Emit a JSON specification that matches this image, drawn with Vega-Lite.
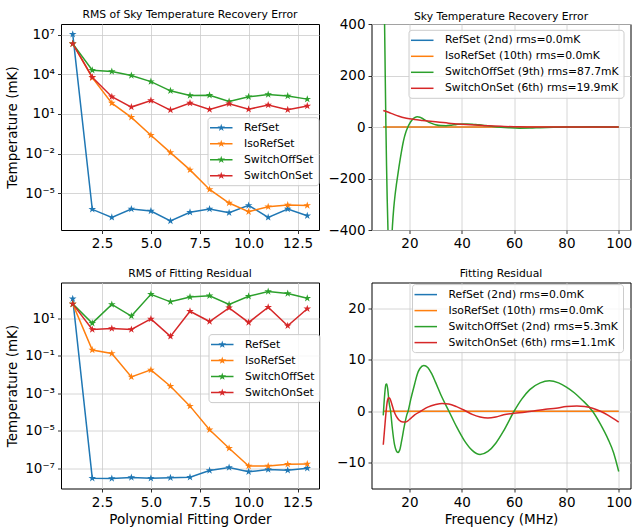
{
  "$schema": "https://vega.github.io/schema/vega-lite/v6.json",
  "background": "white",
  "padding": {"left": 5, "top": 8, "right": 0, "bottom": 0},
  "config": {
    "font": "DejaVu Sans",
    "view": {"stroke": "black", "strokeWidth": 1},
    "axis": {
      "labelFont": "DejaVu Sans", "labelFontSize": 13.5, "labelColor": "black",
      "titleFont": "DejaVu Sans", "titleFontSize": 13.5, "titleFontWeight": "normal", "titleColor": "black",
      "tickColor": "black", "tickSize": 3.5, "tickWidth": 0.8, "labelPadding": 3,
      "domain": false, "grid": true, "gridColor": "#cbcbcb", "gridWidth": 0.8,
      "labelFlush": false, "labelOverlap": false
    },
    "title": {"font": "DejaVu Sans", "fontSize": 10.8, "fontWeight": "normal", "color": "black", "frame": "group", "anchor": "middle", "offset": 0},
    "legend": {
      "orient": "none", "title": null,
      "labelFont": "DejaVu Sans", "labelFontSize": 10.8, "labelColor": "black", "labelLimit": 0,
      "fillColor": "rgba(255,255,255,0.8)", "strokeColor": "#cccccc", "cornerRadius": 3,
      "padding": 4.5, "rowPadding": 5, "labelOffset": 20, "symbolSize": 144,
      "symbolStrokeWidth": 0, "symbolOpacity": 1
    }
  },
  "datasets": {
    "tl": [
      {"o":1,"v":1.1e7,"s":"RefSet"},{"o":2,"v":5.9e-7,"s":"RefSet"},{"o":3,"v":1.45e-7,"s":"RefSet"},{"o":4,"v":6.3e-7,"s":"RefSet"},{"o":5,"v":4.4e-7,"s":"RefSet"},{"o":6,"v":7.8e-8,"s":"RefSet"},{"o":7,"v":3.5e-7,"s":"RefSet"},{"o":8,"v":6.3e-7,"s":"RefSet"},{"o":9,"v":3.3e-7,"s":"RefSet"},{"o":10,"v":1.17e-6,"s":"RefSet"},{"o":11,"v":1.45e-7,"s":"RefSet"},{"o":12,"v":6.3e-7,"s":"RefSet"},{"o":13,"v":1.95e-7,"s":"RefSet"},
      {"o":1,"v":2.1e6,"s":"IsoRefSet"},{"o":2,"v":5600,"s":"IsoRefSet"},{"o":3,"v":66,"s":"IsoRefSet"},{"o":4,"v":5.5,"s":"IsoRefSet"},{"o":5,"v":0.24,"s":"IsoRefSet"},{"o":6,"v":0.0117,"s":"IsoRefSet"},{"o":7,"v":5.75e-4,"s":"IsoRefSet"},{"o":8,"v":1.9e-5,"s":"IsoRefSet"},{"o":9,"v":1.78e-6,"s":"IsoRefSet"},{"o":10,"v":3.9e-7,"s":"IsoRefSet"},{"o":11,"v":9.3e-7,"s":"IsoRefSet"},{"o":12,"v":1.26e-6,"s":"IsoRefSet"},{"o":13,"v":1.17e-6,"s":"IsoRefSet"},
      {"o":1,"v":2.1e6,"s":"SwitchOffSet"},{"o":2,"v":20400,"s":"SwitchOffSet"},{"o":3,"v":16200,"s":"SwitchOffSet"},{"o":4,"v":8100,"s":"SwitchOffSet"},{"o":5,"v":2800,"s":"SwitchOffSet"},{"o":6,"v":562,"s":"SwitchOffSet"},{"o":7,"v":251,"s":"SwitchOffSet"},{"o":8,"v":263,"s":"SwitchOffSet"},{"o":9,"v":87,"s":"SwitchOffSet"},{"o":10,"v":200,"s":"SwitchOffSet"},{"o":11,"v":295,"s":"SwitchOffSet"},{"o":12,"v":224,"s":"SwitchOffSet"},{"o":13,"v":132,"s":"SwitchOffSet"},
      {"o":1,"v":2.1e6,"s":"SwitchOnSet"},{"o":2,"v":6000,"s":"SwitchOnSet"},{"o":3,"v":200,"s":"SwitchOnSet"},{"o":4,"v":33,"s":"SwitchOnSet"},{"o":5,"v":105,"s":"SwitchOnSet"},{"o":6,"v":19.5,"s":"SwitchOnSet"},{"o":7,"v":66,"s":"SwitchOnSet"},{"o":8,"v":21.9,"s":"SwitchOnSet"},{"o":9,"v":59,"s":"SwitchOnSet"},{"o":10,"v":22.9,"s":"SwitchOnSet"},{"o":11,"v":46.8,"s":"SwitchOnSet"},{"o":12,"v":20.9,"s":"SwitchOnSet"},{"o":13,"v":39.8,"s":"SwitchOnSet"}
    ],
    "bl": [
      {"o":1,"v":107,"s":"RefSet"},{"o":2,"v":2.95e-8,"s":"RefSet"},{"o":3,"v":2.8e-8,"s":"RefSet"},{"o":4,"v":3.2e-8,"s":"RefSet"},{"o":5,"v":2.95e-8,"s":"RefSet"},{"o":6,"v":3.1e-8,"s":"RefSet"},{"o":7,"v":3.3e-8,"s":"RefSet"},{"o":8,"v":7.6e-8,"s":"RefSet"},{"o":9,"v":1.1e-7,"s":"RefSet"},{"o":10,"v":6.5e-8,"s":"RefSet"},{"o":11,"v":8.5e-8,"s":"RefSet"},{"o":12,"v":7.9e-8,"s":"RefSet"},{"o":13,"v":1.0e-7,"s":"RefSet"},
      {"o":1,"v":57.5,"s":"IsoRefSet"},{"o":2,"v":0.2,"s":"IsoRefSet"},{"o":3,"v":0.132,"s":"IsoRefSet"},{"o":4,"v":0.0074,"s":"IsoRefSet"},{"o":5,"v":0.0174,"s":"IsoRefSet"},{"o":6,"v":0.00234,"s":"IsoRefSet"},{"o":7,"v":2.04e-4,"s":"IsoRefSet"},{"o":8,"v":1.12e-5,"s":"IsoRefSet"},{"o":9,"v":1.15e-6,"s":"IsoRefSet"},{"o":10,"v":1.32e-7,"s":"IsoRefSet"},{"o":11,"v":1.32e-7,"s":"IsoRefSet"},{"o":12,"v":1.62e-7,"s":"IsoRefSet"},{"o":13,"v":1.7e-7,"s":"IsoRefSet"},
      {"o":1,"v":57.5,"s":"SwitchOffSet"},{"o":2,"v":5.4,"s":"SwitchOffSet"},{"o":3,"v":53.7,"s":"SwitchOffSet"},{"o":4,"v":12.9,"s":"SwitchOffSet"},{"o":5,"v":186,"s":"SwitchOffSet"},{"o":6,"v":74,"s":"SwitchOffSet"},{"o":7,"v":135,"s":"SwitchOffSet"},{"o":8,"v":155,"s":"SwitchOffSet"},{"o":9,"v":53.7,"s":"SwitchOffSet"},{"o":10,"v":148,"s":"SwitchOffSet"},{"o":11,"v":263,"s":"SwitchOffSet"},{"o":12,"v":204,"s":"SwitchOffSet"},{"o":13,"v":115,"s":"SwitchOffSet"},
      {"o":1,"v":57.5,"s":"SwitchOnSet"},{"o":2,"v":2.51,"s":"SwitchOnSet"},{"o":3,"v":2.82,"s":"SwitchOnSet"},{"o":4,"v":2.51,"s":"SwitchOnSet"},{"o":5,"v":9.1,"s":"SwitchOnSet"},{"o":6,"v":1.07,"s":"SwitchOnSet"},{"o":7,"v":23.4,"s":"SwitchOnSet"},{"o":8,"v":6.6,"s":"SwitchOnSet"},{"o":9,"v":35.5,"s":"SwitchOnSet"},{"o":10,"v":5.9,"s":"SwitchOnSet"},{"o":11,"v":38,"s":"SwitchOnSet"},{"o":12,"v":3.9,"s":"SwitchOnSet"},{"o":13,"v":31.6,"s":"SwitchOnSet"}
    ],
    "tr": [
      {"f":10,"v":0,"s":"RefSet (2nd) rms=0.0mK"},{"f":100,"v":0,"s":"RefSet (2nd) rms=0.0mK"},
      {"f":10,"v":0,"s":"IsoRefSet (10th) rms=0.0mK"},{"f":100,"v":0,"s":"IsoRefSet (10th) rms=0.0mK"},
      {"f":10,"v":700,"s":"SwitchOffSet (9th) rms=87.7mK"},{"f":10.25,"v":560,"s":"SwitchOffSet (9th) rms=87.7mK"},{"f":10.5,"v":400,"s":"SwitchOffSet (9th) rms=87.7mK"},{"f":10.75,"v":200,"s":"SwitchOffSet (9th) rms=87.7mK"},{"f":11,"v":10,"s":"SwitchOffSet (9th) rms=87.7mK"},{"f":11.25,"v":-150,"s":"SwitchOffSet (9th) rms=87.7mK"},{"f":11.5,"v":-280,"s":"SwitchOffSet (9th) rms=87.7mK"},{"f":11.8,"v":-400,"s":"SwitchOffSet (9th) rms=87.7mK"},{"f":12.1,"v":-480,"s":"SwitchOffSet (9th) rms=87.7mK"},{"f":12.5,"v":-520,"s":"SwitchOffSet (9th) rms=87.7mK"},{"f":12.9,"v":-490,"s":"SwitchOffSet (9th) rms=87.7mK"},{"f":13.2,"v":-440,"s":"SwitchOffSet (9th) rms=87.7mK"},{"f":13.5,"v":-385,"s":"SwitchOffSet (9th) rms=87.7mK"},{"f":14,"v":-315,"s":"SwitchOffSet (9th) rms=87.7mK"},{"f":14.5,"v":-265,"s":"SwitchOffSet (9th) rms=87.7mK"},{"f":15,"v":-225,"s":"SwitchOffSet (9th) rms=87.7mK"},{"f":15.5,"v":-190,"s":"SwitchOffSet (9th) rms=87.7mK"},{"f":16,"v":-155,"s":"SwitchOffSet (9th) rms=87.7mK"},{"f":16.5,"v":-123,"s":"SwitchOffSet (9th) rms=87.7mK"},{"f":17,"v":-93,"s":"SwitchOffSet (9th) rms=87.7mK"},{"f":17.5,"v":-65,"s":"SwitchOffSet (9th) rms=87.7mK"},{"f":18,"v":-42,"s":"SwitchOffSet (9th) rms=87.7mK"},{"f":18.5,"v":-24,"s":"SwitchOffSet (9th) rms=87.7mK"},{"f":19,"v":-10,"s":"SwitchOffSet (9th) rms=87.7mK"},{"f":19.5,"v":2,"s":"SwitchOffSet (9th) rms=87.7mK"},{"f":20,"v":12,"s":"SwitchOffSet (9th) rms=87.7mK"},{"f":21,"v":27,"s":"SwitchOffSet (9th) rms=87.7mK"},{"f":22,"v":36,"s":"SwitchOffSet (9th) rms=87.7mK"},{"f":23,"v":40,"s":"SwitchOffSet (9th) rms=87.7mK"},{"f":24,"v":38,"s":"SwitchOffSet (9th) rms=87.7mK"},{"f":25,"v":33,"s":"SwitchOffSet (9th) rms=87.7mK"},{"f":26,"v":27,"s":"SwitchOffSet (9th) rms=87.7mK"},{"f":27,"v":21,"s":"SwitchOffSet (9th) rms=87.7mK"},{"f":28,"v":16,"s":"SwitchOffSet (9th) rms=87.7mK"},{"f":29,"v":12,"s":"SwitchOffSet (9th) rms=87.7mK"},{"f":30,"v":9,"s":"SwitchOffSet (9th) rms=87.7mK"},{"f":32,"v":5.5,"s":"SwitchOffSet (9th) rms=87.7mK"},{"f":34,"v":5,"s":"SwitchOffSet (9th) rms=87.7mK"},{"f":36,"v":7,"s":"SwitchOffSet (9th) rms=87.7mK"},{"f":38,"v":10,"s":"SwitchOffSet (9th) rms=87.7mK"},{"f":40,"v":12,"s":"SwitchOffSet (9th) rms=87.7mK"},{"f":42,"v":12,"s":"SwitchOffSet (9th) rms=87.7mK"},{"f":44,"v":11,"s":"SwitchOffSet (9th) rms=87.7mK"},{"f":46,"v":9,"s":"SwitchOffSet (9th) rms=87.7mK"},{"f":48,"v":7,"s":"SwitchOffSet (9th) rms=87.7mK"},{"f":50,"v":4.5,"s":"SwitchOffSet (9th) rms=87.7mK"},{"f":52,"v":2,"s":"SwitchOffSet (9th) rms=87.7mK"},{"f":55,"v":-1,"s":"SwitchOffSet (9th) rms=87.7mK"},{"f":58,"v":-3,"s":"SwitchOffSet (9th) rms=87.7mK"},{"f":62,"v":-4.5,"s":"SwitchOffSet (9th) rms=87.7mK"},{"f":66,"v":-4,"s":"SwitchOffSet (9th) rms=87.7mK"},{"f":70,"v":-2.5,"s":"SwitchOffSet (9th) rms=87.7mK"},{"f":75,"v":-1,"s":"SwitchOffSet (9th) rms=87.7mK"},{"f":80,"v":0,"s":"SwitchOffSet (9th) rms=87.7mK"},{"f":90,"v":0.5,"s":"SwitchOffSet (9th) rms=87.7mK"},{"f":100,"v":0,"s":"SwitchOffSet (9th) rms=87.7mK"},
      {"f":10,"v":64,"s":"SwitchOnSet (6th) rms=19.9mK"},{"f":12,"v":57,"s":"SwitchOnSet (6th) rms=19.9mK"},{"f":14,"v":49,"s":"SwitchOnSet (6th) rms=19.9mK"},{"f":16,"v":42,"s":"SwitchOnSet (6th) rms=19.9mK"},{"f":18,"v":36,"s":"SwitchOnSet (6th) rms=19.9mK"},{"f":20,"v":32,"s":"SwitchOnSet (6th) rms=19.9mK"},{"f":22,"v":29,"s":"SwitchOnSet (6th) rms=19.9mK"},{"f":25,"v":25.5,"s":"SwitchOnSet (6th) rms=19.9mK"},{"f":30,"v":20,"s":"SwitchOnSet (6th) rms=19.9mK"},{"f":35,"v":15,"s":"SwitchOnSet (6th) rms=19.9mK"},{"f":40,"v":11,"s":"SwitchOnSet (6th) rms=19.9mK"},{"f":45,"v":7.5,"s":"SwitchOnSet (6th) rms=19.9mK"},{"f":50,"v":4.5,"s":"SwitchOnSet (6th) rms=19.9mK"},{"f":55,"v":2.5,"s":"SwitchOnSet (6th) rms=19.9mK"},{"f":60,"v":1,"s":"SwitchOnSet (6th) rms=19.9mK"},{"f":65,"v":0.4,"s":"SwitchOnSet (6th) rms=19.9mK"},{"f":70,"v":0.1,"s":"SwitchOnSet (6th) rms=19.9mK"},{"f":80,"v":0,"s":"SwitchOnSet (6th) rms=19.9mK"},{"f":90,"v":0,"s":"SwitchOnSet (6th) rms=19.9mK"},{"f":100,"v":0,"s":"SwitchOnSet (6th) rms=19.9mK"}
    ],
    "br": [
      {"f":10,"v":0,"s":"RefSet (2nd) rms=0.0mK"},{"f":100,"v":0,"s":"RefSet (2nd) rms=0.0mK"},
      {"f":10,"v":0,"s":"IsoRefSet (10th) rms=0.0mK"},{"f":100,"v":0,"s":"IsoRefSet (10th) rms=0.0mK"},
      {"f":10,"v":-0.8,"s":"SwitchOffSet (2nd) rms=5.3mK"},{"f":10.5,"v":3,"s":"SwitchOffSet (2nd) rms=5.3mK"},{"f":11,"v":5.2,"s":"SwitchOffSet (2nd) rms=5.3mK"},{"f":11.3,"v":5.3,"s":"SwitchOffSet (2nd) rms=5.3mK"},{"f":11.7,"v":4.3,"s":"SwitchOffSet (2nd) rms=5.3mK"},{"f":12.2,"v":1.8,"s":"SwitchOffSet (2nd) rms=5.3mK"},{"f":12.8,"v":0,"s":"SwitchOffSet (2nd) rms=5.3mK"},{"f":13.5,"v":-3.5,"s":"SwitchOffSet (2nd) rms=5.3mK"},{"f":14.3,"v":-6.5,"s":"SwitchOffSet (2nd) rms=5.3mK"},{"f":15,"v":-7.7,"s":"SwitchOffSet (2nd) rms=5.3mK"},{"f":15.6,"v":-8,"s":"SwitchOffSet (2nd) rms=5.3mK"},{"f":16.3,"v":-7.5,"s":"SwitchOffSet (2nd) rms=5.3mK"},{"f":17,"v":-5.8,"s":"SwitchOffSet (2nd) rms=5.3mK"},{"f":18,"v":-3,"s":"SwitchOffSet (2nd) rms=5.3mK"},{"f":19,"v":-0.7,"s":"SwitchOffSet (2nd) rms=5.3mK"},{"f":19.5,"v":0,"s":"SwitchOffSet (2nd) rms=5.3mK"},{"f":20.5,"v":2.3,"s":"SwitchOffSet (2nd) rms=5.3mK"},{"f":22,"v":5.3,"s":"SwitchOffSet (2nd) rms=5.3mK"},{"f":23,"v":7.2,"s":"SwitchOffSet (2nd) rms=5.3mK"},{"f":24,"v":8.3,"s":"SwitchOffSet (2nd) rms=5.3mK"},{"f":25.5,"v":8.9,"s":"SwitchOffSet (2nd) rms=5.3mK"},{"f":27,"v":8.5,"s":"SwitchOffSet (2nd) rms=5.3mK"},{"f":28.5,"v":7.3,"s":"SwitchOffSet (2nd) rms=5.3mK"},{"f":30,"v":5.6,"s":"SwitchOffSet (2nd) rms=5.3mK"},{"f":32,"v":3.2,"s":"SwitchOffSet (2nd) rms=5.3mK"},{"f":35.1,"v":0,"s":"SwitchOffSet (2nd) rms=5.3mK"},{"f":38,"v":-3,"s":"SwitchOffSet (2nd) rms=5.3mK"},{"f":41,"v":-5.7,"s":"SwitchOffSet (2nd) rms=5.3mK"},{"f":44,"v":-7.6,"s":"SwitchOffSet (2nd) rms=5.3mK"},{"f":47,"v":-8.4,"s":"SwitchOffSet (2nd) rms=5.3mK"},{"f":50,"v":-7.8,"s":"SwitchOffSet (2nd) rms=5.3mK"},{"f":53,"v":-6.2,"s":"SwitchOffSet (2nd) rms=5.3mK"},{"f":56,"v":-3.8,"s":"SwitchOffSet (2nd) rms=5.3mK"},{"f":60,"v":0,"s":"SwitchOffSet (2nd) rms=5.3mK"},{"f":63,"v":2.4,"s":"SwitchOffSet (2nd) rms=5.3mK"},{"f":66,"v":4.2,"s":"SwitchOffSet (2nd) rms=5.3mK"},{"f":70,"v":5.5,"s":"SwitchOffSet (2nd) rms=5.3mK"},{"f":73.5,"v":5.9,"s":"SwitchOffSet (2nd) rms=5.3mK"},{"f":77,"v":5.5,"s":"SwitchOffSet (2nd) rms=5.3mK"},{"f":80,"v":4.7,"s":"SwitchOffSet (2nd) rms=5.3mK"},{"f":83,"v":3.6,"s":"SwitchOffSet (2nd) rms=5.3mK"},{"f":86,"v":2.2,"s":"SwitchOffSet (2nd) rms=5.3mK"},{"f":90,"v":0,"s":"SwitchOffSet (2nd) rms=5.3mK"},{"f":93,"v":-2.5,"s":"SwitchOffSet (2nd) rms=5.3mK"},{"f":96,"v":-5.5,"s":"SwitchOffSet (2nd) rms=5.3mK"},{"f":98,"v":-8,"s":"SwitchOffSet (2nd) rms=5.3mK"},{"f":100,"v":-11.7,"s":"SwitchOffSet (2nd) rms=5.3mK"},
      {"f":10,"v":-6.5,"s":"SwitchOnSet (6th) rms=1.1mK"},{"f":10.5,"v":-3.5,"s":"SwitchOnSet (6th) rms=1.1mK"},{"f":11,"v":-0.5,"s":"SwitchOnSet (6th) rms=1.1mK"},{"f":11.5,"v":1.8,"s":"SwitchOnSet (6th) rms=1.1mK"},{"f":12,"v":2.6,"s":"SwitchOnSet (6th) rms=1.1mK"},{"f":12.5,"v":2.5,"s":"SwitchOnSet (6th) rms=1.1mK"},{"f":13.2,"v":1.5,"s":"SwitchOnSet (6th) rms=1.1mK"},{"f":14.1,"v":0,"s":"SwitchOnSet (6th) rms=1.1mK"},{"f":15,"v":-1,"s":"SwitchOnSet (6th) rms=1.1mK"},{"f":16,"v":-1.7,"s":"SwitchOnSet (6th) rms=1.1mK"},{"f":17.5,"v":-2.1,"s":"SwitchOnSet (6th) rms=1.1mK"},{"f":18.6,"v":-2.1,"s":"SwitchOnSet (6th) rms=1.1mK"},{"f":20,"v":-1.6,"s":"SwitchOnSet (6th) rms=1.1mK"},{"f":22,"v":-0.7,"s":"SwitchOnSet (6th) rms=1.1mK"},{"f":24.3,"v":0,"s":"SwitchOnSet (6th) rms=1.1mK"},{"f":27,"v":0.8,"s":"SwitchOnSet (6th) rms=1.1mK"},{"f":30,"v":1.3,"s":"SwitchOnSet (6th) rms=1.1mK"},{"f":32.5,"v":1.5,"s":"SwitchOnSet (6th) rms=1.1mK"},{"f":35,"v":1.4,"s":"SwitchOnSet (6th) rms=1.1mK"},{"f":38,"v":0.9,"s":"SwitchOnSet (6th) rms=1.1mK"},{"f":41,"v":0.2,"s":"SwitchOnSet (6th) rms=1.1mK"},{"f":44,"v":-0.6,"s":"SwitchOnSet (6th) rms=1.1mK"},{"f":47,"v":-1.1,"s":"SwitchOnSet (6th) rms=1.1mK"},{"f":50,"v":-1.3,"s":"SwitchOnSet (6th) rms=1.1mK"},{"f":53,"v":-1.1,"s":"SwitchOnSet (6th) rms=1.1mK"},{"f":56,"v":-0.7,"s":"SwitchOnSet (6th) rms=1.1mK"},{"f":60,"v":-0.4,"s":"SwitchOnSet (6th) rms=1.1mK"},{"f":64,"v":-0.2,"s":"SwitchOnSet (6th) rms=1.1mK"},{"f":68,"v":0.1,"s":"SwitchOnSet (6th) rms=1.1mK"},{"f":72,"v":0.4,"s":"SwitchOnSet (6th) rms=1.1mK"},{"f":76,"v":0.6,"s":"SwitchOnSet (6th) rms=1.1mK"},{"f":80,"v":0.9,"s":"SwitchOnSet (6th) rms=1.1mK"},{"f":84,"v":1,"s":"SwitchOnSet (6th) rms=1.1mK"},{"f":87,"v":0.9,"s":"SwitchOnSet (6th) rms=1.1mK"},{"f":90,"v":0.6,"s":"SwitchOnSet (6th) rms=1.1mK"},{"f":93,"v":0,"s":"SwitchOnSet (6th) rms=1.1mK"},{"f":96,"v":-0.8,"s":"SwitchOnSet (6th) rms=1.1mK"},{"f":100,"v":-2.1,"s":"SwitchOnSet (6th) rms=1.1mK"}
    ]
  },
  "columns": 2,
  "spacing": {"row": 52.5, "column": 52.5},
  "bounds": "flush",
  "resolve": {"scale": {"x": "independent", "y": "independent", "color": "independent"}, "legend": {"color": "independent"}, "axis": {"x": "independent", "y": "independent"}},
  "concat": [
    {
      "width": 258, "height": 206,
      "title": "RMS of Sky Temperature Recovery Error",
      "data": {"name": "tl"},
      "mark": {"type": "line", "strokeWidth": 1.5, "clip": true, "point": {"filled": true, "size": 64, "opacity": 1, "shape": "M0,-1L0.2245,-0.309L0.951,-0.309L0.3633,0.118L0.5878,0.809L0,0.382L-0.5878,0.809L-0.3633,0.118L-0.951,-0.309L-0.2245,-0.309Z"}},
      "encoding": {
        "x": {"field": "o", "type": "quantitative", "scale": {"domain": [0.4, 13.6], "nice": false, "zero": false}, "axis": {"title": null, "values": [2.5, 5, 7.5, 10, 12.5], "format": ".1f"}},
        "y": {"field": "v", "type": "quantitative", "scale": {"type": "log", "domain": [1.6e-8, 6.5e7], "nice": false}, "axis": {"title": "Temperature (mK)", "titlePadding": 5, "values": [1e-5, 1e-2, 10, 1e4, 1e7], "labelExpr": "'10' + replace(replace(replace(replace(replace(replace(replace(toString(round(log(datum.value)/LN10)), '-', '⁻'), '1', '¹'), '2', '²'), '3', '³'), '4', '⁴'), '5', '⁵'), '7', '⁷')"}},
        "color": {"field": "s", "type": "nominal", "sort": null, "scale": {"domain": ["RefSet", "IsoRefSet", "SwitchOffSet", "SwitchOnSet"], "range": ["#1f77b4", "#ff7f0e", "#2ca02c", "#d62728"]},
          "legend": {"legendX": 146.5, "legendY": 93.2, "symbolType": "M0.542,-0.667L0.692,-0.206L1.176,-0.206L0.784,0.079L0.934,0.54L0.542,0.255L0.15,0.54L0.3,0.079L-0.092,-0.206L0.392,-0.206Z M-1.333,-0.125L2.417,-0.125L2.417,0.125L-1.333,0.125Z",
            "encode": {"symbols": {"update": {"fill": {"signal": "['#1f77b4','#ff7f0e','#2ca02c','#d62728'][datum.index]"}, "stroke": {"value": "transparent"}, "strokeWidth": {"value": 0}, "opacity": {"value": 1}}}}}}
      }
    },
    {
      "width": 259, "height": 206,
      "title": {"text": "Sky Temperature Recovery Error", "offset": -4.5},
      "data": {"name": "tr"},
      "mark": {"type": "line", "clip": true, "interpolate": "monotone"},
      "encoding": {
        "x": {"field": "f", "type": "quantitative", "scale": {"domain": [5.5, 104.5], "nice": false, "zero": false}, "axis": {"title": null, "values": [20, 40, 60, 80, 100]}},
        "y": {"field": "v", "type": "quantitative", "scale": {"domain": [-400, 400], "nice": false}, "axis": {"title": null, "values": [-400, -200, 0, 200, 400], "labelExpr": "replace(datum.label, '-', '−')"}},
        "strokeWidth": {"condition": {"test": "datum.s == 'RefSet (2nd) rms=0.0mK'", "value": 0.8}, "value": 1.5},
        "color": {"field": "s", "type": "nominal", "sort": null, "scale": {"domain": ["RefSet (2nd) rms=0.0mK", "IsoRefSet (10th) rms=0.0mK", "SwitchOffSet (9th) rms=87.7mK", "SwitchOnSet (6th) rms=19.9mK"], "range": ["#1f77b4", "#ff7f0e", "#2ca02c", "#d62728"]},
          "legend": {"legendX": 37, "legendY": 5.8, "symbolType": "M-1.333,-0.125L2.417,-0.125L2.417,0.125L-1.333,0.125Z",
            "encode": {"symbols": {"update": {"fill": {"signal": "['#1f77b4','#ff7f0e','#2ca02c','#d62728'][datum.index]"}, "stroke": {"value": "transparent"}, "strokeWidth": {"value": 0}, "opacity": {"value": 1}}}}}}
      }
    },
    {
      "width": 258, "height": 206,
      "title": "RMS of Fitting Residual",
      "data": {"name": "bl"},
      "mark": {"type": "line", "strokeWidth": 1.5, "clip": true, "point": {"filled": true, "size": 64, "opacity": 1, "shape": "M0,-1L0.2245,-0.309L0.951,-0.309L0.3633,0.118L0.5878,0.809L0,0.382L-0.5878,0.809L-0.3633,0.118L-0.951,-0.309L-0.2245,-0.309Z"}},
      "encoding": {
        "x": {"field": "o", "type": "quantitative", "scale": {"domain": [0.4, 13.6], "nice": false, "zero": false}, "axis": {"title": "Polynomial Fitting Order", "titlePadding": 4, "values": [2.5, 5, 7.5, 10, 12.5], "format": ".1f"}},
        "y": {"field": "v", "type": "quantitative", "scale": {"type": "log", "domain": [8.3e-9, 794], "nice": false}, "axis": {"title": "Temperature (mK)", "titlePadding": 5, "values": [1e-7, 1e-5, 1e-3, 0.1, 10], "labelExpr": "'10' + replace(replace(replace(replace(replace(replace(replace(toString(round(log(datum.value)/LN10)), '-', '⁻'), '1', '¹'), '2', '²'), '3', '³'), '4', '⁴'), '5', '⁵'), '7', '⁷')"}},
        "color": {"field": "s", "type": "nominal", "sort": null, "scale": {"domain": ["RefSet", "IsoRefSet", "SwitchOffSet", "SwitchOnSet"], "range": ["#1f77b4", "#ff7f0e", "#2ca02c", "#d62728"]},
          "legend": {"legendX": 147.5, "legendY": 51.6, "symbolType": "M0.542,-0.667L0.692,-0.206L1.176,-0.206L0.784,0.079L0.934,0.54L0.542,0.255L0.15,0.54L0.3,0.079L-0.092,-0.206L0.392,-0.206Z M-1.333,-0.125L2.417,-0.125L2.417,0.125L-1.333,0.125Z",
            "encode": {"symbols": {"update": {"fill": {"signal": "['#1f77b4','#ff7f0e','#2ca02c','#d62728'][datum.index]"}, "stroke": {"value": "transparent"}, "strokeWidth": {"value": 0}, "opacity": {"value": 1}}}}}}
      }
    },
    {
      "width": 259, "height": 206,
      "title": "Fitting Residual",
      "data": {"name": "br"},
      "mark": {"type": "line", "clip": true, "interpolate": "monotone"},
      "encoding": {
        "x": {"field": "f", "type": "quantitative", "scale": {"domain": [5.5, 104.5], "nice": false, "zero": false}, "axis": {"title": "Frequency (MHz)", "titlePadding": 4, "values": [20, 40, 60, 80, 100]}},
        "y": {"field": "v", "type": "quantitative", "scale": {"domain": [-15, 25], "nice": false, "zero": false}, "axis": {"title": null, "values": [-10, 0, 10, 20], "labelExpr": "replace(datum.label, '-', '−')"}},
        "strokeWidth": {"condition": {"test": "datum.s == 'RefSet (2nd) rms=0.0mK'", "value": 0.8}, "value": 1.5},
        "color": {"field": "s", "type": "nominal", "sort": null, "scale": {"domain": ["RefSet (2nd) rms=0.0mK", "IsoRefSet (10th) rms=0.0mK", "SwitchOffSet (2nd) rms=5.3mK", "SwitchOnSet (6th) rms=1.1mK"], "range": ["#1f77b4", "#ff7f0e", "#2ca02c", "#d62728"]},
          "legend": {"legendX": 40.5, "legendY": 1.6, "symbolType": "M-1.333,-0.125L2.417,-0.125L2.417,0.125L-1.333,0.125Z",
            "encode": {"symbols": {"update": {"fill": {"signal": "['#1f77b4','#ff7f0e','#2ca02c','#d62728'][datum.index]"}, "stroke": {"value": "transparent"}, "strokeWidth": {"value": 0}, "opacity": {"value": 1}}}}}}
      }
    }
  ]
}
